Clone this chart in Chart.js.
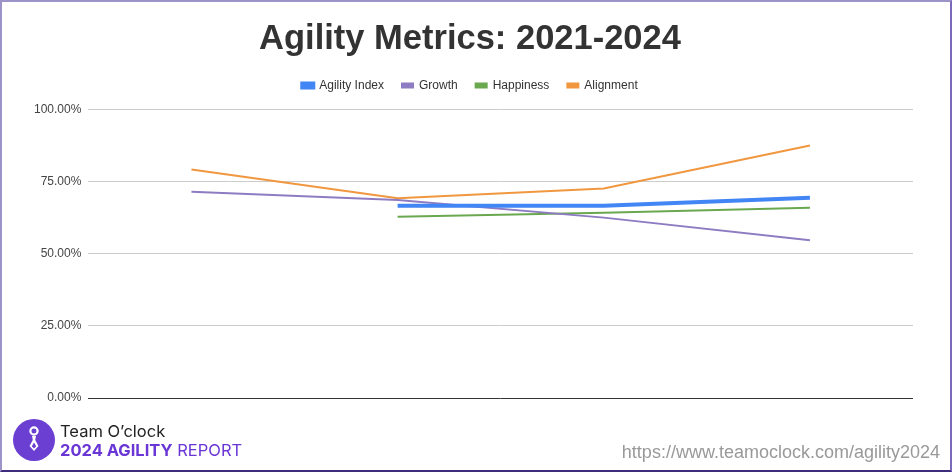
<!DOCTYPE html>
<html>
<head>
<meta charset="utf-8">
<script src="https://cdn.jsdelivr.net/npm/chart.js@4"></script>
<style>
html,body{margin:0;padding:0;background:#fff}
#frame{position:relative;width:948px;height:468px;border-style:solid;border-width:2px;
border-color:#9d93c9 #7a68b8 #3d2c7c #9d93c9;background:#fff;overflow:hidden}
#wrap{position:absolute;left:0;top:0;width:948px;height:468px}
#logo{position:absolute;left:10px;top:416px;width:44px;height:44px}
#brand{position:absolute;left:58px;top:420px;font-family:"Inter","Noto Sans",Arial,sans-serif;line-height:19px}
#brand .t{font-size:16.5px;color:#222}
#brand .r{font-size:16.5px;color:#6a36d6}
#url{position:absolute;right:10px;top:440px;font-family:"Liberation Sans",Arial,sans-serif;font-size:18px;color:#999}
</style>
</head>
<body>
<div id="frame">
<div id="wrap"><canvas id="agility"></canvas></div>
<svg id="logo" viewBox="0 0 44 44">
<circle cx="22" cy="22" r="21" fill="#6a3fd2"/>
<circle cx="22" cy="13" r="3.6" fill="none" stroke="#fff" stroke-width="2.2"/>
<path d="M20 18 L24 18 L23.2 22 L26.5 28 L22 33 L17.5 28 L20.8 22 Z" fill="#fff"/>
<path d="M22 24.5 L24.2 28.2 L22 30.6 L19.8 28.2 Z" fill="#6a3fd2"/>
</svg>
<div id="brand"><div class="t">Team O’clock</div><div class="r"><b>2024 AGILITY</b> REPORT</div></div>
<div id="url">https://www.teamoclock.com/agility2024</div>
</div>
<script>
const years = ["2021","2022","2023","2024"]
const agilityIndex = [null, 66.6, 66.6, 69.4]
const growth = [71.5, 68.6, 62.5, 54.7]
const happiness = [null, 62.8, 64.2, 65.9]
const alignment = [79.2, 69.2, 72.6, 87.5]
const yTicks = [0, 25, 50, 75, 100]

function series(label, data, color, width){
return {
label: label,
data: data,
borderColor: color,
backgroundColor: color,
borderWidth: width,
pointRadius: 0,
pointHoverRadius: 0,
tension: 0
}
}

// a bit of room under the legend
const legendGap = {
id: "legendGap",
beforeInit(chart){
const fit = chart.legend.fit
chart.legend.fit = function(){
fit.bind(chart.legend)()
this.height += 8
}
}
}

const ctx = document.getElementById("agility")

new Chart(ctx, {
type: "line",
data: {
labels: years,
datasets: [
series("Agility Index", agilityIndex, "#4285f4", 4),
series("Growth", growth, "#8e7cc3", 2),
series("Happiness", happiness, "#6aa84f", 2),
series("Alignment", alignment, "#f0973f", 2)
]
},
options: {
responsive: true,
maintainAspectRatio: false,
animation: false,
layout: {padding: {left: 25, right: 37, top: 11, bottom: 64}},
plugins: {
title: {
display: true,
text: "Agility Metrics: 2021-2024",
color: "#333",
font: {family: "Liberation Sans, Arial", size: 34.5, weight: "bold"},
padding: {top: 6, bottom: 1}
},
legend: {
display: true,
labels: {
boxWidth: 11,
boxHeight: 4,
color: "#333",
padding: 18,
font: {family: "Liberation Sans, Arial", size: 12}
}
},
tooltip: {enabled: false}
},
scales: {
x: {
offset: true,
grid: {display: false},
border: {display: false},
ticks: {display: false}
},
y: {
min: 0,
max: 100,
afterBuildTicks: axis => { axis.ticks = yTicks.map(v => ({value: v})) },
border: {display: false},
grid: {
color: c => c.tick.value === 0 ? "#333" : "#ccc",
lineWidth: 1,
drawTicks: false
},
ticks: {
padding: 7,
color: "#444",
font: {family: "Liberation Sans, Arial", size: 12},
callback: v => v.toFixed(2) + "%"
}
}
}
},
plugins: [legendGap]
})
</script>
</body>
</html>
